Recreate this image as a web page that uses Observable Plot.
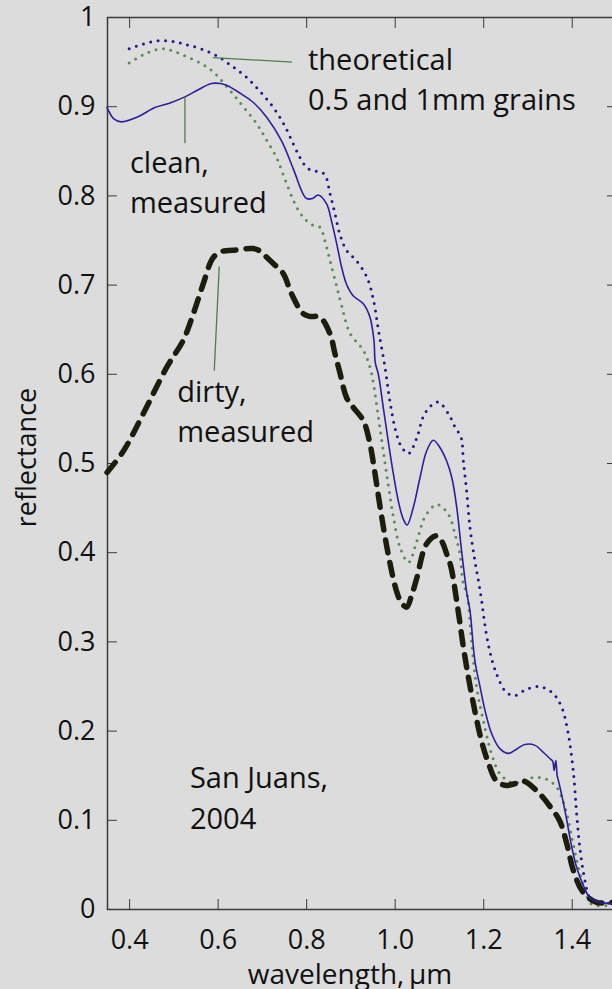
<!DOCTYPE html>
<html><head><meta charset="utf-8">
<script src="https://cdn.jsdelivr.net/npm/d3@7"></script>
<script src="https://cdn.jsdelivr.net/npm/@observablehq/plot@0.6"></script>
<style>
html,body{margin:0;padding:0;background:#dcdcdc;overflow:hidden;}
#chart svg{display:block;}
</style></head><body><div id="chart"></div>
<script>
// clean snow, measured (solid blue)
const cleanWl = [0.349,0.365,0.382,0.42,0.457,0.49,0.525,0.555,0.585,0.605,0.619,0.65,0.679,0.71,0.743,0.77,0.792,0.800,0.813,0.826,0.845,0.856,0.868,0.879,0.890,0.905,0.928,0.943,0.952,0.955,0.962,0.973,0.984,0.996,1.007,1.018,1.027,1.041,1.056,1.071,1.086,1.101,1.116,1.128,1.139,1.150,1.162,1.169,1.180,1.192,1.203,1.218,1.237,1.256,1.275,1.293,1.316,1.335,1.350,1.356,1.359,1.363,1.366,1.369,1.379,1.388,1.399,1.410,1.425,1.440,1.463,1.49];
const cleanR  = [0.899,0.886,0.883,0.889,0.899,0.904,0.911,0.919,0.926,0.926,0.924,0.915,0.905,0.888,0.862,0.830,0.802,0.797,0.797,0.801,0.791,0.772,0.746,0.720,0.701,0.688,0.679,0.664,0.638,0.613,0.600,0.563,0.526,0.488,0.458,0.438,0.431,0.451,0.484,0.514,0.526,0.518,0.503,0.484,0.451,0.402,0.354,0.335,0.279,0.249,0.223,0.197,0.180,0.175,0.180,0.185,0.184,0.176,0.169,0.166,0.156,0.167,0.150,0.144,0.122,0.099,0.070,0.047,0.027,0.013,0.008,0.007];

// theoretical, 0.5 mm grains (blue dotted)
const theo05Wl = [0.399,0.43,0.465,0.5,0.525,0.56,0.597,0.63,0.664,0.695,0.725,0.75,0.770,0.785,0.800,0.815,0.830,0.841,0.853,0.864,0.875,0.890,0.913,0.936,0.951,0.962,0.977,0.988,1.003,1.015,1.030,1.049,1.063,1.079,1.097,1.120,1.135,1.149,1.154,1.162,1.169,1.180,1.192,1.210,1.229,1.252,1.271,1.297,1.327,1.357,1.376,1.391,1.403,1.410,1.418,1.429,1.440,1.46,1.49];
const theo05R  = [0.965,0.970,0.974,0.973,0.970,0.965,0.957,0.946,0.933,0.917,0.899,0.879,0.858,0.843,0.832,0.828,0.827,0.824,0.802,0.780,0.757,0.739,0.727,0.709,0.683,0.650,0.608,0.570,0.533,0.518,0.511,0.529,0.552,0.564,0.569,0.556,0.541,0.529,0.503,0.466,0.428,0.391,0.357,0.298,0.264,0.243,0.240,0.247,0.250,0.242,0.227,0.197,0.152,0.107,0.066,0.032,0.013,0.008,0.007];

// theoretical, 1 mm grains (green dotted)
const theo1Wl = [0.399,0.43,0.472,0.5,0.529,0.56,0.589,0.61,0.634,0.66,0.687,0.71,0.732,0.75,0.770,0.785,0.800,0.815,0.830,0.841,0.853,0.868,0.879,0.898,0.928,0.943,0.951,0.962,0.973,0.984,0.996,1.011,1.030,1.049,1.067,1.094,1.120,1.135,1.146,1.154,1.162,1.173,1.184,1.199,1.218,1.237,1.267,1.312,1.342,1.365,1.384,1.399,1.414,1.429,1.444,1.49];
const theo1R  = [0.949,0.958,0.965,0.962,0.956,0.949,0.939,0.928,0.914,0.898,0.881,0.862,0.843,0.820,0.795,0.781,0.772,0.767,0.765,0.750,0.727,0.698,0.677,0.646,0.627,0.608,0.589,0.552,0.514,0.477,0.440,0.406,0.389,0.413,0.440,0.454,0.443,0.421,0.399,0.365,0.354,0.298,0.249,0.212,0.174,0.152,0.142,0.148,0.146,0.137,0.114,0.081,0.047,0.021,0.006,0.005];

// dirty snow, measured (black dashed)
const dirtyWl = [0.349,0.386,0.431,0.484,0.521,0.544,0.566,0.589,0.61,0.634,0.679,0.695,0.710,0.725,0.747,0.766,0.792,0.807,0.830,0.853,0.864,0.875,0.890,0.905,0.928,0.943,0.954,0.966,0.984,1.003,1.015,1.026,1.037,1.049,1.071,1.094,1.105,1.116,1.126,1.141,1.156,1.173,1.195,1.210,1.229,1.252,1.27,1.289,1.320,1.346,1.372,1.388,1.403,1.425,1.455,1.49];
const dirtyR  = [0.490,0.514,0.556,0.608,0.638,0.668,0.701,0.731,0.738,0.739,0.741,0.738,0.731,0.724,0.713,0.690,0.668,0.665,0.664,0.645,0.623,0.602,0.574,0.563,0.548,0.522,0.490,0.451,0.399,0.357,0.343,0.339,0.352,0.372,0.410,0.419,0.413,0.399,0.384,0.339,0.288,0.240,0.189,0.165,0.144,0.139,0.141,0.144,0.133,0.118,0.099,0.073,0.043,0.019,0.008,0.008];

// axis ticks
const xTicks = [0.4,0.6,0.8,1.0,1.2,1.4];
const yTicks = [0,0.1,0.2,0.3,0.4,0.5,0.6,0.7,0.8,0.9,1];

// annotations
const labelText = ["theoretical\n0.5 and 1mm grains", "clean,\nmeasured", "dirty,\nmeasured", "San Juans,\n2004"];
const labelWl   = [0.803, 0.4007, 0.5076, 0.5363];
const labelR    = [0.896, 0.781, 0.5237, 0.0908];
const leaderWl1 = [0.588, 0.525, 0.6025];
const leaderR1  = [0.955, 0.911, 0.7208];
const leaderWl2 = [0.767, 0.525, 0.5912];
const leaderR2  = [0.950, 0.859, 0.6041];

const rows = (wl, r) => wl.map((w, i) => ({wl: w, r: r[i]}));
const labels = labelText.map((t, i) => ({t, wl: labelWl[i], r: labelR[i]}));
const leaders = leaderWl1.map((w, i) => ({x1: w, y1: leaderR1[i], x2: leaderWl2[i], y2: leaderR2[i]}));

const font = "'Open Sans', sans-serif";
const fs = 27;

const chart = Plot.plot({
  width: 612, height: 989,
  marginLeft: 107, marginRight: -4, marginTop: 17, marginBottom: 80,
  style: {background: "#dcdcdc", fontFamily: font, fontSize: fs + "px", color: "#111", overflow: "hidden"},
  x: {domain: [0.35, 1.5]},
  y: {domain: [0, 1]},
  marks: [
    Plot.frame({stroke: "#3a3a3a", strokeWidth: 1.5}),
    Plot.axisX(xTicks, {anchor: "bottom", tickSize: -10, tickPadding: 30, tickFormat: d => d.toFixed(1), label: null, stroke: "#3a3a3a", fontSize: fs}),
    Plot.axisX(xTicks, {anchor: "top", tickSize: -10, tickFormat: () => "", label: null, stroke: "#3a3a3a"}),
    Plot.axisY(yTicks, {anchor: "left", tickSize: -10, tickPadding: 22, tickFormat: d => (d === 0 || d === 1) ? String(d) : d.toFixed(1), label: null, stroke: "#3a3a3a", fontSize: fs}),
    Plot.axisY(yTicks, {anchor: "right", tickSize: -10, tickFormat: () => "", label: null, stroke: "#3a3a3a"}),
    Plot.text(["reflectance"], {frameAnchor: "left", rotate: -90, dx: -72, dy: -6, textAnchor: "middle", lineAnchor: "bottom", fontSize: fs, fill: "#111"}),
    Plot.text(["wavelength,\u2009µm"], {frameAnchor: "bottom", dy: 74, dx: -12, textAnchor: "middle", lineAnchor: "bottom", fontSize: 28, fill: "#111"}),
    Plot.line(rows(theo05Wl, theo05R), {x: "wl", y: "r", stroke: "#22178f", strokeWidth: 3, strokeDasharray: "0,7.5", strokeLinecap: "round", curve: "catmull-rom"}),
    Plot.line(rows(theo1Wl, theo1R), {x: "wl", y: "r", stroke: "#5b8a5b", strokeWidth: 3, strokeDasharray: "0,7.5", strokeLinecap: "round", curve: "catmull-rom"}),
    Plot.line(rows(dirtyWl, dirtyR), {x: "wl", y: "r", stroke: "#1d1d0c", strokeWidth: 5.5, strokeDasharray: "13,10", curve: "catmull-rom"}),
    Plot.line(rows(cleanWl, cleanR), {x: "wl", y: "r", stroke: "#2c1f9e", strokeWidth: 1.6, curve: "catmull-rom"}),
    Plot.link(leaders, {x1: "x1", y1: "y1", x2: "x2", y2: "y2", stroke: "#4e7e4e", strokeWidth: 1.3}),
    Plot.text(labels, {x: "wl", y: "r", text: "t", textAnchor: "start", lineAnchor: "bottom", lineHeight: 1.38, fontSize: 29, fill: "#111"})
  ]
});
document.getElementById("chart").appendChild(chart);
</script>
</body></html>
